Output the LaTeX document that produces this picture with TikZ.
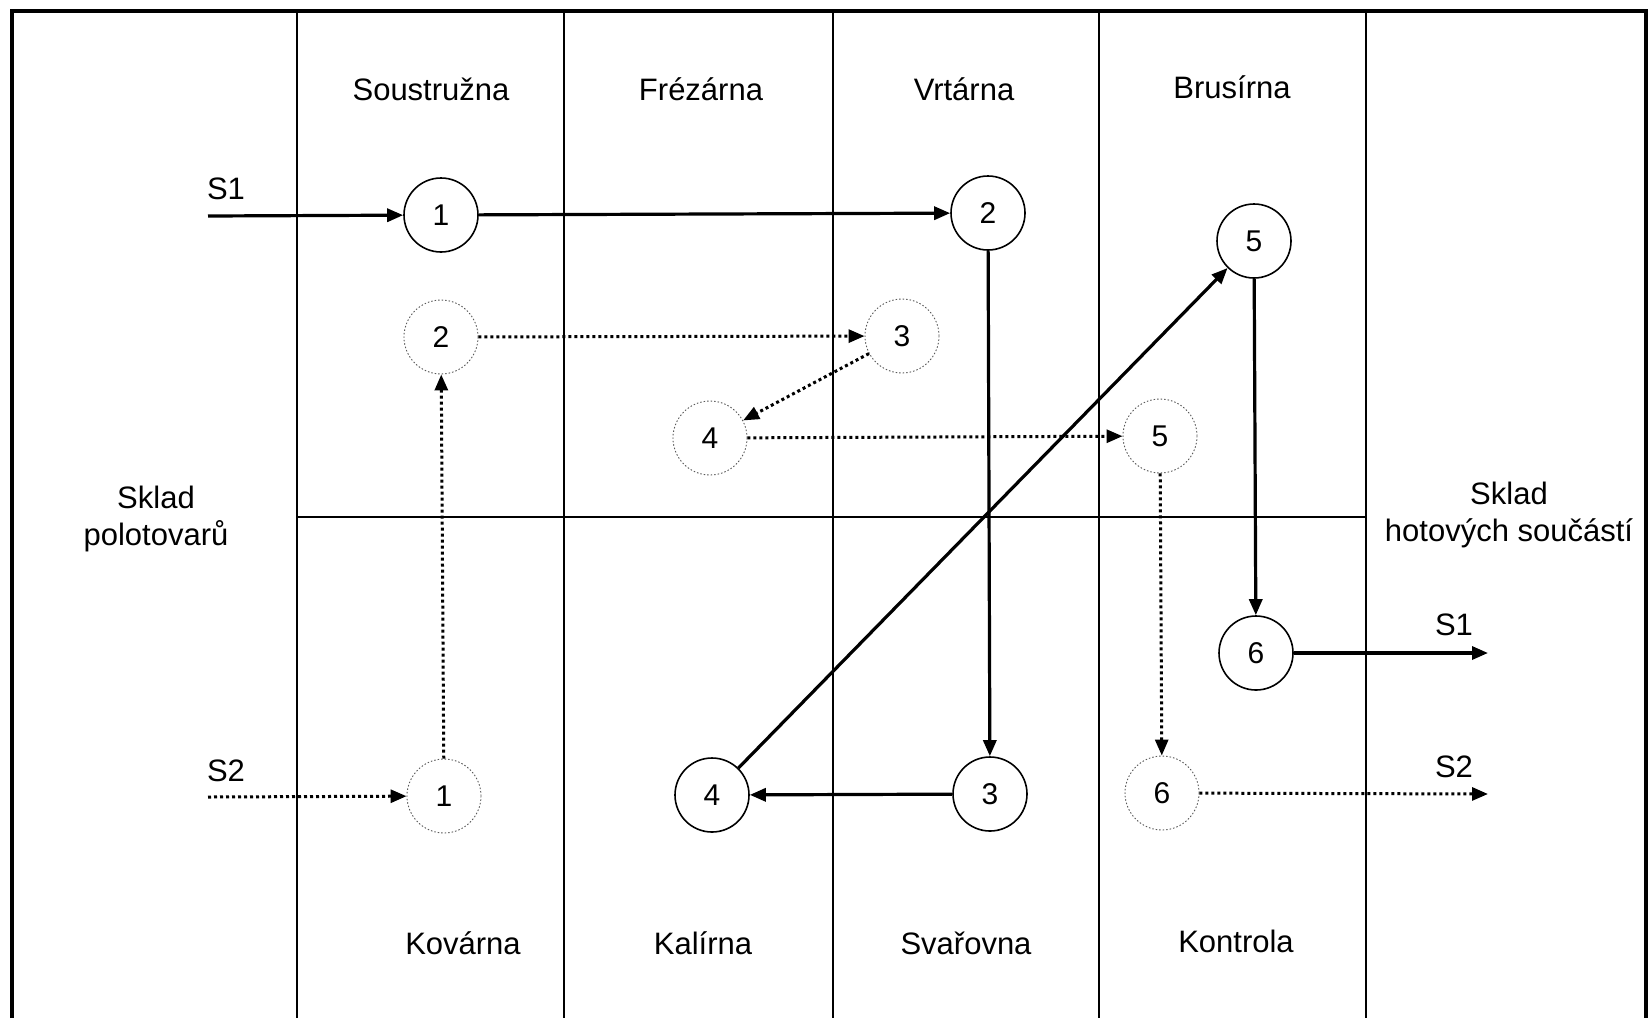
\documentclass[tikz,border=0pt]{standalone}
\usepackage{fontspec}
\setmainfont{Liberation Sans}
\usetikzlibrary{arrows.meta}
\begin{document}
\begin{tikzpicture}[x=1pt,y=-1pt,
  lbl/.style={font=\fontsize{31}{37}\selectfont, align=center, inner sep=0pt},
  stn/.style={circle, draw, line width=1.6pt, minimum size=74pt, inner sep=0pt, font=\fontsize{30}{36}\selectfont},
  dstn/.style={circle, draw=black!65, line width=0.9pt, dash pattern=on 1.5pt off 2pt, minimum size=74pt, inner sep=0pt, font=\fontsize{30}{36}\selectfont},
  flow/.style={line width=3.2pt, -{Triangle[length=16pt,width=13pt]}},
  dflow/.style={line width=3pt, dash pattern=on 3pt off 3pt, -{Triangle[length=16pt,width=13pt]}},
  partline/.style={line width=2pt},
  outerline/.style={line width=4pt}
]
\fill[white] (0,0) rectangle (1648,1018);
\useasboundingbox (0,0) rectangle (1648,1018);

% frame and partitions
\draw[outerline] (12,1018) -- (12,11) -- (1646,11) -- (1646,1018);
\foreach \xx in {297,564,833,1099,1366} {\draw[partline] (\xx,11) -- (\xx,1018);}
\draw[partline] (297,517) -- (1366,517);

% department labels
\node[lbl] (soustruzna) at (431,89) {Soustružna};
\node[lbl] (frezarna) at (701,89) {Frézárna};
\node[lbl] (vrtarna) at (964,89) {Vrtárna};
\node[lbl] (brusirna) at (1232,87) {Brusírna};
\node[lbl] (kovarna) at (463,943) {Kovárna};
\node[lbl] (kalirna) at (703,943) {Kalírna};
\node[lbl] (svarovna) at (966,943) {Svařovna};
\node[lbl] (kontrola) at (1236,941) {Kontrola};
\node[lbl] (skladp) at (156,519) {Sklad\\polotovarů};
\node[lbl] (skladh) at (1509,515) {Sklad\\hotových součástí};

% flow labels
\node[lbl] (s1in) at (226,189) {S1};
\node[lbl] (s2in) at (226,771) {S2};
\node[lbl] (s1out) at (1454,625) {S1};
\node[lbl] (s2out) at (1454,767) {S2};

% S1 stations (solid)
\node[stn] (a1) at (441,215) {1};
\node[stn] (a2) at (988,213) {2};
\node[stn] (a3) at (990,794) {3};
\node[stn] (a4) at (712,795) {4};
\node[stn] (a5) at (1254,241) {5};
\node[stn] (a6) at (1256,653) {6};

% S2 stations (dotted)
\node[dstn] (b1) at (444,796) {1};
\node[dstn] (b2) at (441,337) {2};
\node[dstn] (b3) at (902,336) {3};
\node[dstn] (b4) at (710,438) {4};
\node[dstn] (b5) at (1160,436) {5};
\node[dstn] (b6) at (1162,793) {6};

% free ends
\coordinate (s1start) at (208,216);
\coordinate (s1end) at (1488,653);
\coordinate (s2start) at (208,797);
\coordinate (s2end) at (1488,794);

% S1 flow
\draw[flow] (s1start) -- (a1);
\draw[flow] (a1) -- (a2);
\draw[flow] (a2) -- (a3);
\draw[flow] (a3) -- (a4);
\draw[flow] (a4) -- (a5);
\draw[flow] (a5) -- (a6);
\draw[flow] (a6) -- (s1end);

% S2 flow
\draw[dflow] (s2start) -- (b1);
\draw[dflow] (b1) -- (b2);
\draw[dflow] (b2) -- (b3);
\draw[dflow] (b3) -- (b4);
\draw[dflow] (b4) -- (b5);
\draw[dflow] (b5) -- (b6);
\draw[dflow] (b6) -- (s2end);
\end{tikzpicture}
\end{document}
